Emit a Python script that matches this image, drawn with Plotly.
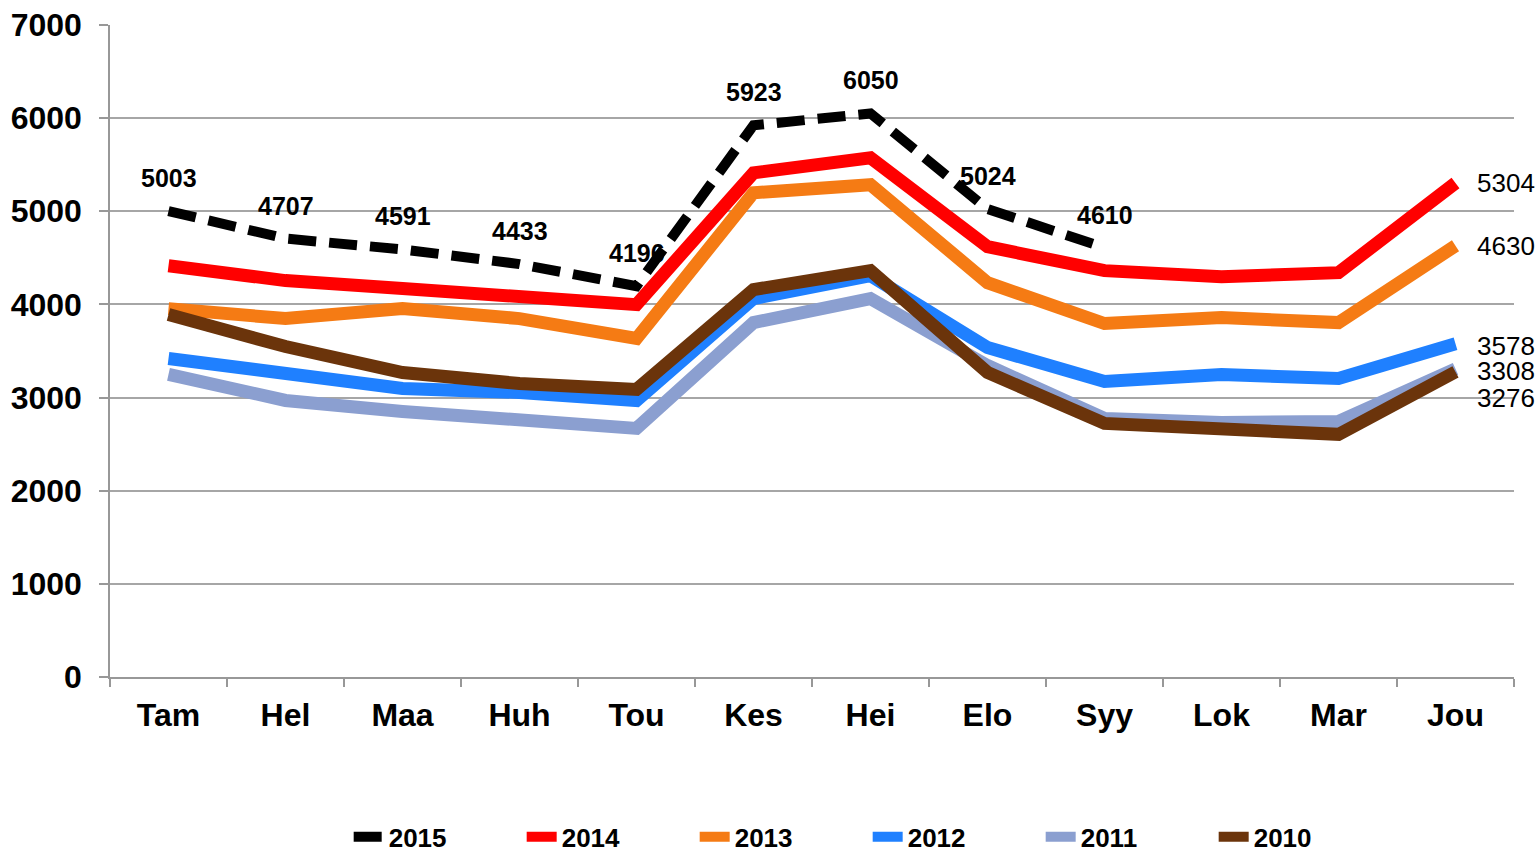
import plotly.graph_objects as go

months = ["Tam", "Hel", "Maa", "Huh", "Tou", "Kes", "Hei", "Elo", "Syy", "Lok", "Mar", "Jou"]

v2015 = [5003, 4707, 4591, 4433, 4196, 5923, 6050, 5024, 4610]
v2014 = [4416, 4256, 4170, 4084, 3998, 5413, 5574, 4620, 4363, 4298, 4341, 5304]
v2013 = [3955, 3848, 3955, 3848, 3634, 5199, 5285, 4234, 3795, 3859, 3805, 4630]
v2012 = [3420, 3269, 3098, 3055, 2969, 4063, 4309, 3537, 3173, 3248, 3205, 3578]
v2011 = [3248, 2969, 2851, 2755, 2669, 3805, 4063, 3344, 2776, 2733, 2744, 3308]
v2010 = [3891, 3548, 3269, 3151, 3087, 4159, 4363, 3269, 2723, 2669, 2605, 3276]

y_ticks = [0, 1000, 2000, 3000, 4000, 5000, 6000, 7000]

series = [
    ("2011", v2011, "#8B9FD0", None, 5),
    ("2012", v2012, "#1F80FF", None, 4),
    ("2013", v2013, "#F57B14", None, 3),
    ("2014", v2014, "#FF0000", None, 2),
    ("2010", v2010, "#6B340B", None, 6),
    ("2015", v2015, "#000000", "28px,13px", 1),
]

fig = go.Figure()
for name, vals, color, dash, rank in series:
    fig.add_trace(go.Scatter(
        x=months[:len(vals)], y=vals, name=name, mode="lines",
        line=dict(color=color, width=13 if dash is None else 10, dash=dash or "solid"),
        legendrank=rank, hoverinfo="skip",
    ))

annotations = []
for m, v in zip(months, v2015):
    annotations.append(dict(x=m, y=v, text=str(v), showarrow=False, yshift=33,
                            font=dict(family="Liberation Sans, Arial", size=25, color="black", weight="bold")))

right_labels = [(v2014[-1], 0), (v2013[-1], 0), (v2012[-1], -2), (v2011[-1], -2), (v2010[-1], -26)]
for v, ys in right_labels:
    annotations.append(dict(x=months[-1], y=v, text=str(v), showarrow=False, xanchor="left",
                            xshift=19, yshift=ys,
                            font=dict(family="Liberation Sans, Arial", size=26, color="black")))

fig.update_layout(
    width=1539, height=853,
    margin=dict(l=110, r=25, t=25, b=176, autoexpand=False),
    plot_bgcolor="white", paper_bgcolor="white",
    showlegend=True,
    legend=dict(orientation="h", x=0.17, xanchor="left", y=-0.245, yanchor="middle",
                entrywidth=128, entrywidthmode="pixels",
                font=dict(family="Liberation Sans, Arial", size=26, color="black", weight="bold"),
                traceorder="normal"),
    annotations=annotations,
)
fig.update_xaxes(
    type="category", categoryorder="array", categoryarray=months, automargin=False,
    range=[-0.5, 11.5], showline=True, linecolor="#989898", linewidth=1.5,
    ticks="outside", tickson="boundaries", ticklen=8, tickcolor="#989898", tickwidth=1.5,
    showgrid=False, ticklabelstandoff=9,
    tickfont=dict(family="Liberation Sans, Arial", size=32, color="black", weight="bold"),
)
fig.update_yaxes(
    range=[0, 7000], tickvals=y_ticks, showline=True, linecolor="#989898", linewidth=1.5,
    ticks="outside", ticklen=9, tickcolor="#989898", tickwidth=1.5, automargin=False,
    showgrid=True, gridcolor="#A6A6A6", gridwidth=1.5, zeroline=False,
    ticklabelstandoff=11, ticklabeloverflow="allow",
    tickfont=dict(family="Liberation Sans, Arial", size=32, color="black", weight="bold"),
)

fig.write_html("out.html", config={"displayModeBar": False},
               post_script="document.body.style.margin='0px';")
